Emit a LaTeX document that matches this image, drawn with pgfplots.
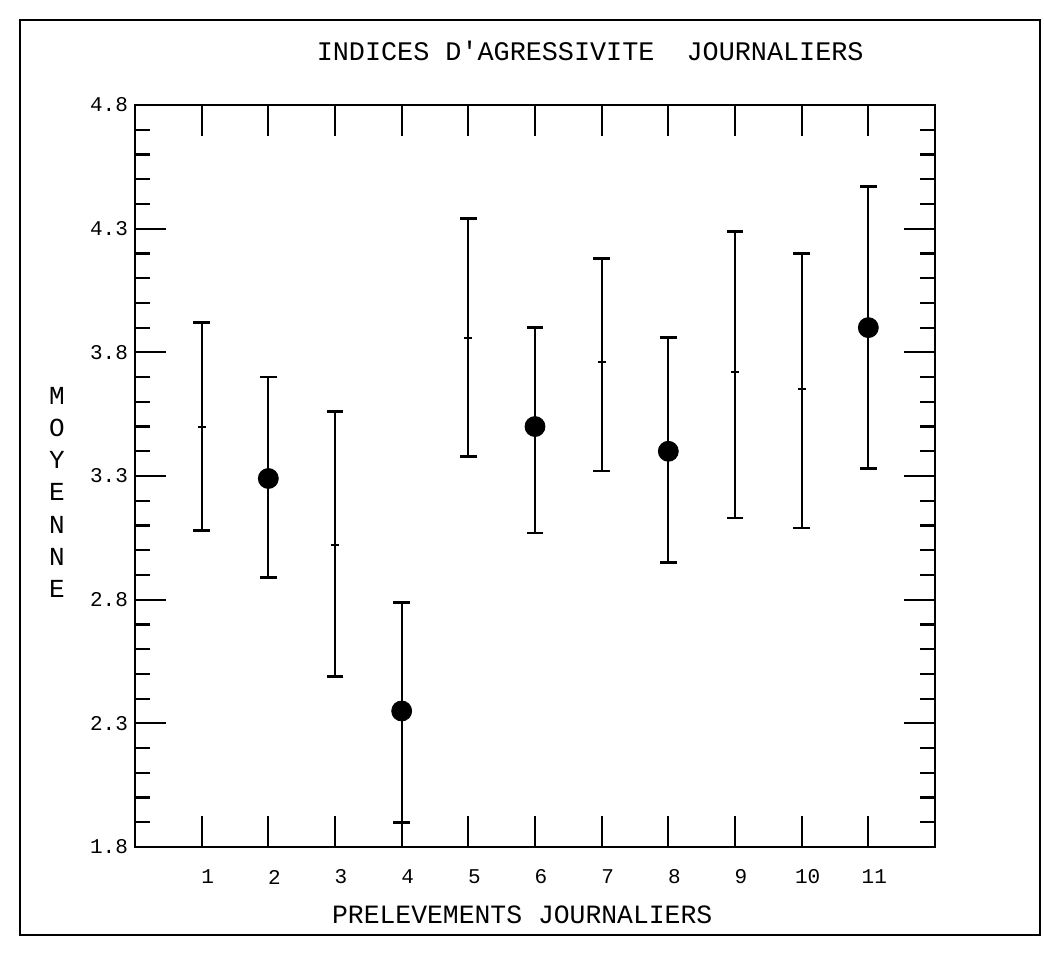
\documentclass[border=0pt]{standalone}
\usepackage{pgfplots}
\pgfplotsset{compat=1.18}
\usepackage{pgfplotstable}
\usepackage{fontspec}
\setmainfont{Liberation Mono}
\setmonofont{Liberation Mono}

\pgfplotstableread{
x y ep em
1 3.50 0.42 0.42
2 3.29 0.41 0.40
3 3.02 0.54 0.53
4 2.35 0.44 0.45
5 3.86 0.48 0.48
6 3.50 0.40 0.43
7 3.76 0.42 0.44
8 3.40 0.46 0.45
9 3.72 0.57 0.59
10 3.65 0.55 0.56
11 3.90 0.57 0.57
}\bars

\pgfplotstableread{
x y
2 3.29
4 2.35
6 3.50
8 3.40
11 3.90
}\dots

\begin{document}
\begin{tikzpicture}
\path (0pt,0pt) rectangle (522pt,-482.5pt);
\draw[line width=0.9pt] (10pt,-10pt) rectangle (520pt,-467.5pt);
\begin{axis}[
  at={(67.5pt,-423.5pt)}, anchor=south west,
  scale only axis, width=400pt, height=371pt,
  xmin=0, xmax=12, ymin=1.8, ymax=4.8,
  xtick={1,...,11},
  ytick={1.8,2.3,2.8,3.3,3.8,4.3,4.8},
  minor y tick num=4,
  tick align=inside,
  major tick length=15.5pt,
  minor tick length=7.5pt,
  axis line style={line width=1.2pt},
  every tick/.style={black, line width=1.1pt},
  /pgf/number format/assume math mode=true,
  yticklabel style={font=\fontsize{10.5}{12}\selectfont\ttfamily, /pgf/number format/fixed, /pgf/number format/fixed zerofill, /pgf/number format/precision=1},
  xticklabel style={font=\fontsize{10.5}{12}\selectfont\ttfamily, anchor=center, yshift=-15pt, xshift=3pt},
  title={INDICES D'AGRESSIVITE\ \ JOURNALIERS},
  title style={font=\fontsize{13.4}{15}\selectfont\ttfamily, at={(axis description cs:0.569,1.057)}, anchor=center},
  xlabel={PRELEVEMENTS JOURNALIERS},
  every axis x label/.style={font=\fontsize{13.2}{15}\selectfont\ttfamily, at={(axis description cs:0.484,-0.092)}, anchor=center},
  ylabel={M\\O\\Y\\E\\N\\N\\E},
  every axis y label/.style={font=\fontsize{13}{16.1}\selectfont\ttfamily, align=center, at={(axis description cs:-0.0975,0.478)}, anchor=center},
]
\addplot[black, only marks, mark=-, mark size=2pt, mark options={line width=1pt},
  error bars/.cd, y dir=both, y explicit,
  error mark=-, error mark options={rotate=90, mark size=4.2pt, line width=1.4pt},
  error bar style={line width=1pt}]
  table[x=x, y=y, y error plus=ep, y error minus=em] {\bars};
\addplot[only marks, mark=*, mark size=5pt, black, mark options={fill=black}]
  table[x=x, y=y] {\dots};
\end{axis}
\end{tikzpicture}
\end{document}
